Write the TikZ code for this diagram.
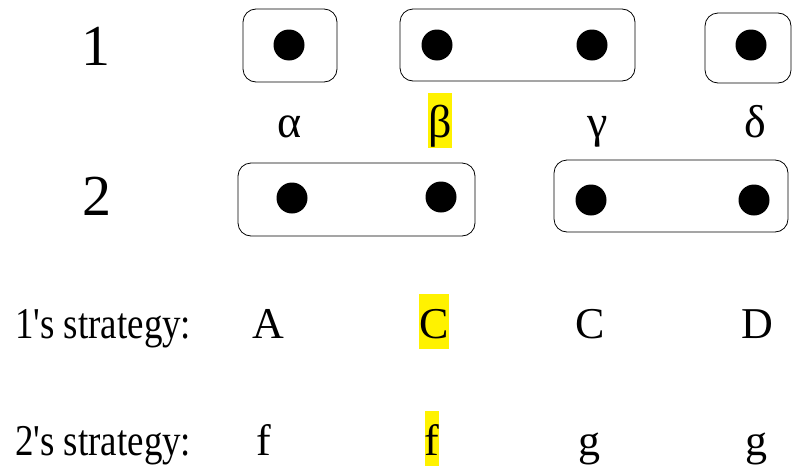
\documentclass[tikz,border=0pt]{standalone}
\usepackage{fontspec}
\setmainfont{Liberation Serif}[Ligatures=TeXOff]

\newcommand{\narrowtext}[1]{\scalebox{0.84}[1]{#1}}

\begin{document}
\begin{tikzpicture}[
    x=1pt, y=-1pt,
    infoset/.style={draw, rectangle, rounded corners=13pt, line width=0.8pt, inner sep=0pt},
    dot/.style={circle, fill=black, inner sep=0pt, minimum size=31pt},
    player/.style={font=\fontsize{58}{58}\selectfont, anchor=base},
    state/.style={font=\fontsize{46}{46}\selectfont, anchor=base, inner sep=0pt, text height=44pt, text depth=11pt},
    move/.style={font=\fontsize{44}{44}\selectfont, anchor=base, inner sep=0pt, text height=44pt, text depth=11pt},
    rowlabel/.style={font=\fontsize{44}{44}\selectfont, anchor=base west, inner sep=0pt},
    chosen/.style={fill=yellow}
]
\useasboundingbox (0,0) rectangle (792,466);

% players
\node[player] (p1) at (96,65) {1};
\node[player] (p2) at (97,215) {2};

% information sets of player 1
\node[infoset, minimum width=94pt, minimum height=73pt] (I1a) at (290,45.5) {};
\node[infoset, minimum width=235pt, minimum height=72pt] (I1b) at (517.5,45) {};
\node[infoset, minimum width=86pt, minimum height=70pt] (I1c) at (748,48) {};
\node[dot] (d1alpha) at (289,45) {};
\node[dot] (d1beta) at (437,45) {};
\node[dot] (d1gamma) at (592,45) {};
\node[dot] (d1delta) at (751,45) {};

% states
\node[state] (salpha) at (290,137) {α};
\node[state, chosen] (sbeta) at (440,137) {β};
\node[state] (sgamma) at (598,137) {γ};
\node[state] (sdelta) at (755,137) {δ};

% information sets of player 2
\node[infoset, minimum width=237pt, minimum height=73pt] (I2a) at (356.5,199.5) {};
\node[infoset, minimum width=234pt, minimum height=72pt] (I2b) at (671,196) {};
\node[dot] (d2alpha) at (292,198) {};
\node[dot] (d2beta) at (441,197) {};
\node[dot] (d2gamma) at (591,200) {};
\node[dot] (d2delta) at (754,200) {};

% strategies
\node[rowlabel] (s1) at (15,338) {\narrowtext{1's strategy:}};
\node[move] (m1alpha) at (268,338) {A};
\node[move, chosen] (m1beta) at (434,338) {C};
\node[move] (m1gamma) at (590,338) {C};
\node[move] (m1delta) at (757,338) {D};

\node[rowlabel] (s2) at (15,455) {\narrowtext{2's strategy:}};
\node[move] (m2alpha) at (264,455) {f};
\node[move, chosen] (m2beta) at (432,455) {f};
\node[move] (m2gamma) at (589,455) {g};
\node[move] (m2delta) at (756,455) {g};

\end{tikzpicture}
\end{document}
